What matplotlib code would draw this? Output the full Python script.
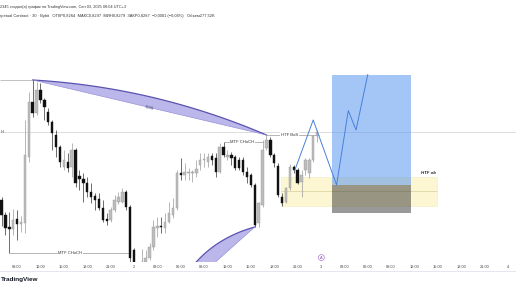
import numpy as np
import matplotlib
matplotlib.use('Agg')
import matplotlib.pyplot as plt
from matplotlib.patches import Rectangle, Polygon
from matplotlib.lines import Line2D

plt.rcParams['font.family'] = ['Liberation Sans', 'DejaVu Sans']

# 30-min candles, index 0 = 00:00 of day 2
bar_idx = list(range(-34, 48))
opens = [0.8000, 0.7925, 0.7865, 0.7855, 0.7905, 0.7880, 0.7885, 0.8215, 0.8490, 0.8435,
         0.8550, 0.8500, 0.8440, 0.8390, 0.8325, 0.8265, 0.8165, 0.8190, 0.8165, 0.8250,
         0.8120, 0.8105, 0.8085, 0.8040, 0.8020, 0.8005, 0.7960, 0.7905, 0.7900, 0.7950,
         0.7990, 0.7990, 0.8040, 0.7965, 0.7750, 0.7660, 0.7670, 0.7690, 0.7710, 0.7765,
         0.7860, 0.7870, 0.7860, 0.7890, 0.7925, 0.7960, 0.8135, 0.8125, 0.8135, 0.8135,
         0.8135, 0.8175, 0.8200, 0.8190, 0.8220, 0.8210, 0.8140, 0.8265, 0.8215, 0.8225,
         0.8215, 0.8200, 0.8200, 0.8140, 0.8125, 0.8075, 0.7885, 0.7975, 0.8260, 0.8300,
         0.8225, 0.8170, 0.8015, 0.7990, 0.8060, 0.8165, 0.8150, 0.8090, 0.8150, 0.8135,
         0.8200, 0.8320]
closes = [0.7925, 0.7860, 0.78575, 0.7900, 0.7880, 0.7890, 0.8225, 0.8490, 0.8435, 0.8550,
          0.8500, 0.8465, 0.8390, 0.8335, 0.8265, 0.8190, 0.8200, 0.8160, 0.8250, 0.8085,
          0.8105, 0.8085, 0.8040, 0.8015, 0.8000, 0.7960, 0.7900, 0.7895, 0.7950, 0.8000,
          0.8015, 0.8040, 0.7965, 0.7710, 0.7690, 0.7685, 0.7690, 0.7710, 0.7765, 0.7865,
          0.7870, 0.7865, 0.7890, 0.7935, 0.7960, 0.8135, 0.8125, 0.8140, 0.8140, 0.8140,
          0.8155, 0.8200, 0.8205, 0.8215, 0.8200, 0.8140, 0.8265, 0.8225, 0.8225, 0.8210,
          0.8160, 0.8160, 0.8140, 0.8115, 0.8075, 0.7875, 0.7985, 0.8250, 0.8300, 0.8225,
          0.8185, 0.8025, 0.7985, 0.8060, 0.8165, 0.8150, 0.8085, 0.8125, 0.8200, 0.8200,
          0.8320, 0.8340]
highs = [0.8015, 0.7940, 0.7940, 0.7955, 0.7950, 0.7920, 0.8400, 0.8540, 0.8600, 0.8590,
         0.8585, 0.8510, 0.8460, 0.8400, 0.8350, 0.8275, 0.8250, 0.8235, 0.8285, 0.8260,
         0.8150, 0.8135, 0.8115, 0.8085, 0.8035, 0.8035, 0.8000, 0.7935, 0.7965, 0.8025,
         0.8040, 0.8060, 0.8050, 0.7975, 0.7760, 0.7687, 0.7755, 0.7750, 0.7785, 0.7900,
         0.7915, 0.7915, 0.7935, 0.7990, 0.8010, 0.8150, 0.8210, 0.8185, 0.8160, 0.8150,
         0.8200, 0.8235, 0.8235, 0.8235, 0.8235, 0.8235, 0.8285, 0.8290, 0.8250, 0.8240,
         0.8225, 0.8215, 0.8215, 0.8165, 0.8135, 0.8085, 0.7990, 0.8300, 0.8325, 0.8315,
         0.8235, 0.8185, 0.8035, 0.8065, 0.8180, 0.8175, 0.8160, 0.8150, 0.8210, 0.8210,
         0.8325, 0.8350]
lows = [0.7870, 0.7825, 0.77375, 0.7825, 0.7800, 0.7840, 0.7835, 0.8190, 0.8415, 0.8425,
        0.8485, 0.8400, 0.8375, 0.8250, 0.8215, 0.8165, 0.8150, 0.8140, 0.8115, 0.8065,
        0.8050, 0.7990, 0.8015, 0.7985, 0.7950, 0.7950, 0.7890, 0.7875, 0.7890, 0.7940,
        0.7980, 0.7985, 0.7950, 0.7690, 0.7660, 0.7625, 0.7650, 0.7680, 0.7700, 0.7750,
        0.7815, 0.7835, 0.7835, 0.7885, 0.7910, 0.7950, 0.8100, 0.8100, 0.8100, 0.8090,
        0.8115, 0.8150, 0.8165, 0.8165, 0.8175, 0.8115, 0.8135, 0.8215, 0.8200, 0.8175,
        0.8150, 0.8150, 0.8125, 0.8085, 0.8065, 0.7865, 0.7865, 0.7965, 0.8250, 0.8215,
        0.8165, 0.8015, 0.7970, 0.7985, 0.8050, 0.8135, 0.8080, 0.8015, 0.8125, 0.8110,
        0.8190, 0.8290]

tick_pos = list(range(-30, 97, 6))
tick_labels = ['09:00', '12:00', '15:00', '18:00', '21:00', '2',
               '03:00', '06:00', '09:00', '12:00', '15:00', '18:00', '21:00', '3',
               '03:00', '06:00', '09:00', '12:00', '15:00', '18:00', '21:00', '4']

# drawings (price levels / bar anchors)
swing_high = 0.8600
bos_level = 0.8325
choch_up = 0.8290
choch_down = 0.77375
ob_top, ob_mid, ob_bottom = 0.81165, 0.8044, 0.79715
ob_from, ob_to = 37.7, 77.9
pos_from, pos_to = 50.9, 71.0
pos_target, pos_entry, pos_stop = 0.8625, 0.8075, 0.79335
path_t = [41.3, 46.0, 52.0, 55.0, 57.0, 60.0]
path_p = [0.8150, 0.8400, 0.8075, 0.8447, 0.8350, 0.8627]
arc_top = (-26, 0.8600, 34, 0.8325, 10.5)
arc_low = (10.0, 0.7500, 31, 0.7865, 13.5)

XMIN, XMAX = -34.39, 98.05
YMIN, YMAX = 0.769, 0.889

W, H = 516, 289
fig = plt.figure(figsize=(W / 100, H / 100), dpi=100)
ax = fig.add_axes([0, 27 / H, 1, (H - 27 - 22) / H])
ax.set_xlim(XMIN, XMAX)
ax.set_ylim(YMIN, YMAX)
for s in ax.spines.values():
    s.set_visible(False)
ax.set_yticks([])
ax.set_xticks(tick_pos, tick_labels, fontsize=2.8, color='#444444')
ax.tick_params(axis='x', length=0, pad=2.2)

px_bar = W / (XMAX - XMIN)
px_price = (H - 49) / (YMAX - YMIN)


def arc_points(t0, p0, t1, p1, bulge, n=80):
    x0, y0, x1, y1 = t0 * px_bar, p0 * px_price, t1 * px_bar, p1 * px_price
    s = np.linspace(0, 1, n)
    dx, dy = x1 - x0, y1 - y0
    L = np.hypot(dx, dy)
    b = bulge * 4 * s * (1 - s)
    xs = x0 + s * dx - b * dy / L
    ys = y0 + s * dy + b * dx / L
    return xs / px_bar, ys / px_price


# order block + position tool
ax.add_patch(Rectangle((ob_from, ob_bottom), ob_to - ob_from, ob_top - ob_bottom,
                       facecolor='#faf0b4', alpha=0.6, edgecolor='#eadf9c', lw=0.4, zorder=1))
ax.hlines(ob_mid, ob_from, ob_to, color='#d9cf9a', lw=0.5, zorder=1)
ax.text(ob_to - 0.4, ob_top + 0.0006, 'HTF ob', ha='right', va='bottom', fontsize=3.2,
        weight='bold', style='italic', color='#222222')
ax.add_patch(Rectangle((pos_from, pos_entry), pos_to - pos_from, pos_target - pos_entry,
                       facecolor='#4a8ef0', alpha=0.5, lw=0, zorder=1.5))
ax.add_patch(Rectangle((pos_from, pos_stop), pos_to - pos_from, pos_entry - pos_stop,
                       facecolor='#3c3c3c', alpha=0.52, lw=0, zorder=1.5))
ax.plot(path_t, path_p, color='#4a7fd9', lw=0.7, zorder=4)

# last price line
ax.axhline(closes[-1], color='#d0d0d0', lw=0.5, zorder=0.5)
ax.text(XMIN + 0.1, closes[-1], 'H', fontsize=3, va='center', ha='left', color='#444444')
ax.hlines(swing_high, XMIN, -26, color='#a8a8a8', lw=0.5)

# arcs
for t0, p0, t1, p1, bulge in (arc_top, arc_low):
    xs, ys = arc_points(t0, p0, t1, p1, bulge)
    ax.add_patch(Polygon(np.column_stack([xs, ys]), closed=True, facecolor='#b4afe8',
                         edgecolor='none', alpha=0.9, zorder=1.2))
    ax.plot(xs, ys, color='#5a52b0', lw=0.9, zorder=1.3)
    ax.plot([t0, t1], [p0, p1], color='#8a84d2', lw=0.4, zorder=1.3)
ax.text(4.1, 0.8462, '0035', fontsize=3, rotation=-13.5, ha='center', va='center',
        color='#333366', zorder=1.4)

# candles
for t, o, h, l, c in zip(bar_idx, opens, highs, lows, closes):
    up = c >= o
    body = '#bdbdbd' if up else '#111111'
    wick = '#9a9a9a' if up else '#333333'
    ax.vlines(t, l, h, color=wick, lw=0.5, zorder=2)
    ax.bar(t, max(abs(c - o), 0.0004), bottom=min(o, c), width=0.62, color=body,
           edgecolor='#9a9a9a' if up else '#111111', linewidth=0.3, zorder=3)

# structure labels
lbl = dict(fontsize=3, ha='center', va='center', color='#333333', zorder=5,
           bbox=dict(facecolor='white', edgecolor='none', pad=0.4))
ax.hlines(choch_down, -32, -1, color='#9a9a9a', lw=0.5, zorder=2)
ax.text(-16.4, choch_down, 'MTF CHoCH', **lbl)
ax.hlines(choch_up, 23, 33, color='#9a9a9a', lw=0.5, zorder=2)
ax.text(27.8, choch_up, 'MTF CHoCH', **lbl)
ax.hlines(bos_level, 34, 47.5, color='#9a9a9a', lw=0.5, zorder=2)
ax.text(39.9, bos_level, 'HTF BoS', **lbl)

ax.text(48.1, 0.7712, 'A', fontsize=2.8, ha='center', va='center', color='#8e44ad', zorder=5,
        bbox=dict(boxstyle='circle,pad=0.25', facecolor='white', edgecolor='#b07cd8', lw=0.5))

# header + footer
fig.text(0.0, 1 - 7 / H, '2345 создал(а) график на TradingView.com, Сен 03, 2025 08:04 UTC+3',
         fontsize=2.8, va='center', ha='left', color='#333333')
fig.text(0.0, 1 - 16 / H, 'rpetual Contract · 30 · Bybit   ОТКР0,8264  МАКС0,8297  МИН0,8279  '
         'ЗАКР0,8287  −0,0001 (−0,04%)   Объем277,52K',
         fontsize=2.9, va='center', ha='left', color='#333333')
fig.add_artist(Line2D([0, 1], [1 - 271 / H] * 2, color='#e0e3eb', lw=0.6))
fig.text(1 / W, 1 - 280 / H, 'TradingView', fontsize=4.6, weight='bold', ha='left',
         va='center', color='#131722')

fig.savefig('out.png', dpi=100)
